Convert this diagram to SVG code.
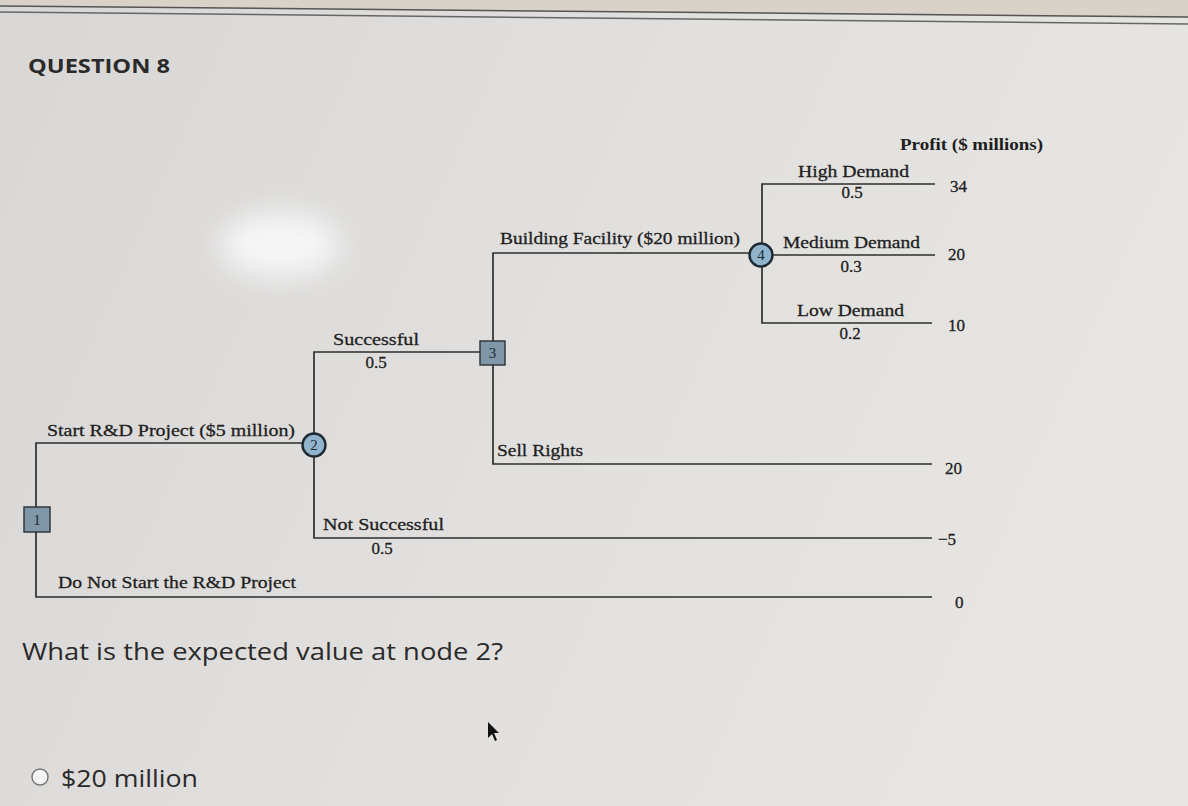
<svg xmlns="http://www.w3.org/2000/svg" width="1188" height="806" viewBox="0 0 1188 806">
<defs>
<style>
.t{font-family:"Liberation Serif","Times New Roman",serif;font-size:17px;fill:#1e1e1e;stroke:#1e1e1e;stroke-width:0.3}
.tb{font-family:"Liberation Serif","Times New Roman",serif;font-size:17px;font-weight:bold;fill:#1e1e1e}
.c{text-anchor:middle}
.ln{stroke:#2e2e2e;stroke-width:1.7;fill:none}
.sq{fill:#7f97a8;stroke:#2a2f33;stroke-width:1.4}
.ci{fill:#8fb4cc;stroke:#1f2a33;stroke-width:2.4}
.nl{font-family:"Liberation Serif","Times New Roman",serif;font-size:15px;fill:#1e2a33;text-anchor:middle}
.q{font-family:"Open Sans","Noto Sans",sans-serif;fill:#2a2a2a}
</style>
<linearGradient id="bg" x1="0" y1="0" x2="1" y2="0.3">
<stop offset="0" stop-color="#d9d7d6"/>
<stop offset="0.5" stop-color="#e0dfdd"/>
<stop offset="1" stop-color="#e6e5e2"/>
</linearGradient>
<filter id="blur" x="-50%" y="-50%" width="200%" height="200%"><feGaussianBlur stdDeviation="14"/></filter>
</defs>
<rect width="1188" height="806" fill="url(#bg)"/>
<polygon points="0,0 1188,0 1188,18 0,6" fill="#d9d2c8"/>
<line x1="0" y1="6" x2="1188" y2="17" stroke="#555" stroke-width="1.5"/>
<line x1="0" y1="12" x2="1188" y2="24" stroke="#666" stroke-width="1.5"/>
<ellipse cx="280" cy="245" rx="60" ry="32" fill="#f6f6f6" filter="url(#blur)"/>

<text x="28" y="73" class="q" font-size="20" font-weight="bold" textLength="142" lengthAdjust="spacingAndGlyphs">QUESTION 8</text>

<g id="connectors">
<polyline class="ln" points="302,443 36,443 36,597 932,597"/>
<polyline class="ln" points="480,352 314,352 314,538 932,538"/>
<polyline class="ln" points="749,253 493,253 493,464 932,464"/>
<polyline class="ln" points="935,184 762,184 762,323 932,323"/>
<line class="ln" x1="773" y1="255" x2="935" y2="255"/>
</g>

<g id="node1"><rect class="sq" x="24" y="507" width="26" height="25"/><text class="nl" x="37" y="525">1</text></g>
<g id="node2"><circle class="ci" cx="314" cy="445" r="11.5"/><text class="nl" x="314" y="450">2</text></g>
<g id="node3"><rect class="sq" x="480" y="341" width="25" height="24"/><text class="nl" x="492.5" y="358">3</text></g>
<g id="node4"><circle class="ci" cx="761" cy="255" r="11.5"/><text class="nl" x="761" y="260">4</text></g>

<g id="labels">
<text class="tb" x="900" y="150" textLength="143" lengthAdjust="spacingAndGlyphs">Profit ($ millions)</text>
<text class="t" x="798" y="177" textLength="111" lengthAdjust="spacingAndGlyphs">High Demand</text>
<text class="t c" x="852" y="198">0.5</text>
<text class="t" x="783" y="248" textLength="137" lengthAdjust="spacingAndGlyphs">Medium Demand</text>
<text class="t c" x="851" y="272">0.3</text>
<text class="t" x="797" y="316" textLength="107" lengthAdjust="spacingAndGlyphs">Low Demand</text>
<text class="t c" x="850" y="339">0.2</text>
<text class="t" x="500" y="244" textLength="240" lengthAdjust="spacingAndGlyphs">Building Facility ($20 million)</text>
<text class="t" x="333" y="345" textLength="86" lengthAdjust="spacingAndGlyphs">Successful</text>
<text class="t c" x="376" y="368">0.5</text>
<text class="t" x="47" y="436" textLength="248" lengthAdjust="spacingAndGlyphs">Start R&amp;D Project ($5 million)</text>
<text class="t" x="497" y="456" textLength="86" lengthAdjust="spacingAndGlyphs">Sell Rights</text>
<text class="t" x="323" y="530" textLength="121" lengthAdjust="spacingAndGlyphs">Not Successful</text>
<text class="t c" x="382" y="554">0.5</text>
<text class="t" x="58" y="588" textLength="238" lengthAdjust="spacingAndGlyphs">Do Not Start the R&amp;D Project</text>
<text class="t" x="950" y="192">34</text>
<text class="t" x="948" y="260">20</text>
<text class="t" x="948" y="331">10</text>
<text class="t" x="945" y="474">20</text>
<text class="t" x="938" y="545">−5</text>
<text class="t" x="955" y="608">0</text>
</g>

<text class="q" x="22" y="660" font-size="24" textLength="481" lengthAdjust="spacingAndGlyphs">What is the expected value at node 2?</text>
<circle cx="40" cy="777" r="8" fill="#f4f4f4" stroke="#777" stroke-width="1.5"/>
<text class="q" x="61" y="787" font-size="24" textLength="137" lengthAdjust="spacingAndGlyphs">$20 million</text>
<polygon points="488,722 488,738 492,734 495,741 497,740 494,733 499,733" fill="#111"/>
</svg>
